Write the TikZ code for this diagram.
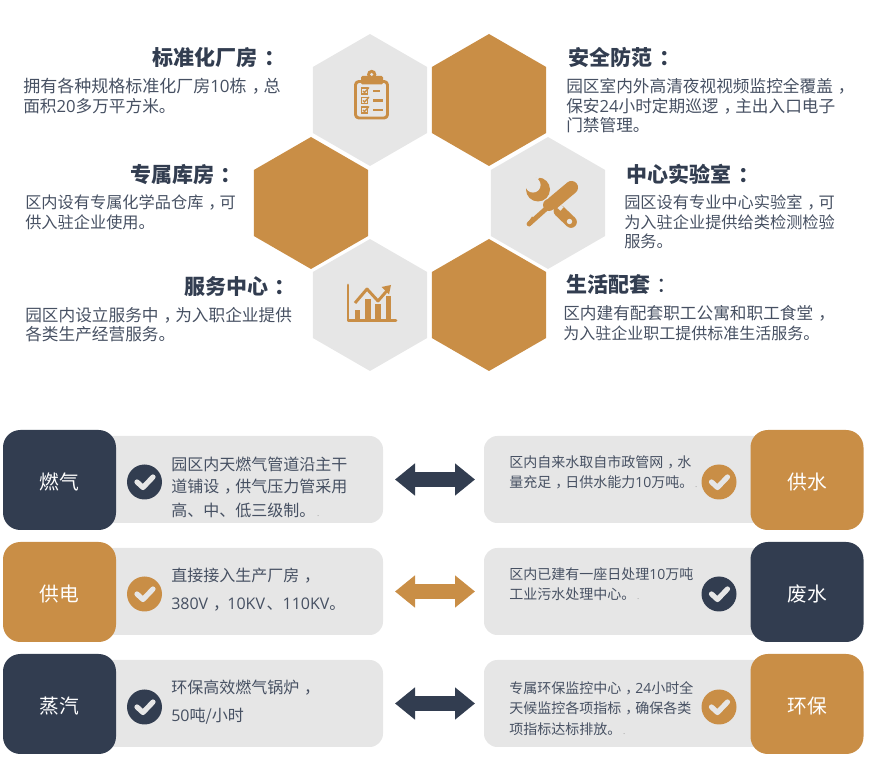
\documentclass[tikz,border=0pt]{standalone}
\usepackage{fontspec}
\usetikzlibrary{shapes.geometric,arrows.meta}
\setmainfont{Noto Sans CJK SC}
\newfontfamily\osf{Open Sans}
\definecolor{navy}{HTML}{323D50}
\definecolor{ochre}{HTML}{C98E46}
\definecolor{pale}{HTML}{E6E6E6}
\definecolor{ink}{HTML}{465062}
\newcommand{\nm}[1]{{\osf #1}}
\newcommand{\zc}{\makebox[1em][l]{\hspace{.3em}，}}
\newcommand{\zk}{\makebox[1em][l]{\hspace{.3em}：}}
\newcommand{\spk}{\textcolor{gray!70}{\fontsize{6}{6}\selectfont\ .}}
\newcommand{\lift}[1]{\raisebox{-7.1pt}[0pt][0pt]{#1}}
\tikzset{
  hexa/.style={regular polygon,regular polygon sides=6,regular polygon rotate=30,minimum size=99pt,inner sep=0pt,outer sep=0pt},
  hexpale/.style={hexa,fill=pale},
  hexochre/.style={hexa,fill=ochre},
  head/.style={anchor=west,inner sep=0pt,text=navy,font=\fontsize{15.75}{18}\selectfont\bfseries},
  body/.style={anchor=west,inner sep=0pt,text=ink,font=\fontsize{12.5}{15}\selectfont},
  bodywide/.style={body,font=\fontsize{12.75}{15}\selectfont},
  bodynarrow/.style={body,font=\fontsize{12.15}{15}\selectfont},
  bodyL/.style={anchor=west,inner sep=0pt,text=ink,font=\fontsize{12}{15}\selectfont},
  bodyR/.style={anchor=west,inner sep=0pt,text=ink,font=\fontsize{10.5}{13}\selectfont},
  panelL/.style={fill=pale,rounded corners=10pt,minimum width=212.25pt,minimum height=65.25pt,inner sep=0pt,outer sep=0pt},
  panelR/.style={fill=pale,rounded corners=10pt,minimum width=214.5pt,minimum height=65.25pt,inner sep=0pt,outer sep=0pt},
  tag/.style={rounded corners=13pt,minimum width=84.75pt,minimum height=75pt,inner sep=0pt,outer sep=0pt,text=white,font=\fontsize{14.8}{17}\selectfont},
  tick/.style={circle,minimum size=26.25pt,inner sep=0pt,outer sep=0pt},
  tickline/.style={draw=pale,line width=3.9pt,line cap=round,line join=round},
  link/.style={line width=11.25pt,shorten <=9pt,shorten >=6.75pt,{Triangle[length=15pt,width=23.25pt]}-{Triangle[length=15pt,width=23.25pt]}},
  iconline/.style={draw=ochre,line width=2.2pt,line join=round}
}
\newcommand{\tickmark}[1]{\draw[tickline] ([shift={(-7.5,0)}]#1.center) -- ([shift={(-1.5,5.5)}]#1.center) -- ([shift={(8.5,-5)}]#1.center);}
\begin{document}
\begin{tikzpicture}[x=0.75pt,y=-0.75pt]
\useasboundingbox (0,0) rectangle (869,777);
% hexagons
\node[hexpale] (h1) at (370,100) {};
\node[hexochre] (h2) at (489,100) {};
\node[hexochre] (h3) at (311,203) {};
\node[hexpale] (h4) at (548,203) {};
\node[hexpale] (h5) at (370,305) {};
\node[hexochre] (h6) at (489,305) {};
% clipboard icon
\draw[iconline,rounded corners=2.5pt] (361,81.5) -- (355.5,81.5) -- (355.5,118) -- (387.5,118) -- (387.5,81.5) -- (382,81.5);
\fill[ochre,rounded corners=1pt] (361,84.5) -- (361,76) -- (383,76) -- (383,84.5) -- cycle;
\fill[ochre] (371.7,74.5) circle (4.7);
\fill[pale] (371.7,74.5) circle (1.7);
\foreach \yy/\xe in {91/380,100.5/383,110/383}{
  \draw[ochre,line width=1pt] (361.5,\yy-3) rectangle (367.5,\yy+3);
  \draw[ochre,line width=1pt] (363,\yy) -- (364.5,\yy+1.5) -- (369,\yy-3.5);
  \draw[ochre,line width=1.9pt] (373,\yy) -- (\xe,\yy);
}
% tools icon
\fill[ochre] (538,189.5) circle (12);
\fill[pale] (533,185) circle (7.6);
\fill[pale] (527,178) -- (540,177) -- (533,185) -- cycle;
\draw[ochre,line width=8.8pt,line cap=round] (559.5,211) -- (571,222);
\fill[pale] (569.5,221.5) circle (2.7);
\draw[pale,line width=3.5pt] (551,199) -- (562,209);
\draw[ochre,line width=9.8pt,line cap=round] (571.5,187.5) -- (553,203);
\draw[ochre,line width=3.6pt,line cap=round] (548,207) -- (529,224);
\fill[ochre] (549,205) circle (6);
\fill[ochre] (527,224) -- (532,216.5) -- (536,220) -- (529.5,226.5) -- cycle;
% chart icon
\draw[iconline,line cap=round] (348,285) -- (348,320.5) -- (396,320.5);
\fill[ochre] (354.5,310) rectangle (360,320);
\fill[ochre] (365,299) rectangle (370.5,320);
\fill[ochre] (375,304) rectangle (380.5,320);
\fill[ochre] (385.5,296) rectangle (391,320);
\draw[iconline] (355,303) -- (367,289) -- (378,301) -- (388,289.5);
\fill[ochre] (391,285) -- (381.5,287) -- (389,294.5) -- cycle;
% hexagon captions
\node[head] (t1) at (152.5,57.5) {标准化厂房\zk};
\node[bodywide] (t1a) at (23,86) {拥有各种规格标准化厂房\nm{10}栋\zc 总};
\node[body] (t1b) at (23,106) {面积\nm{20}多万平方米。};
\node[head] (t2) at (130,174.5) {专属库房\zk};
\node[bodynarrow] (t2a) at (25,202) {区内设有专属化学品仓库\zc 可};
\node[bodynarrow] (t2b) at (25,222) {供入驻企业使用。};
\node[head] (t3) at (184,287) {服务中心\zk};
\node[body] (t3a) at (25,315) {园区内设立服务中\zc 为入职企业提供};
\node[body] (t3b) at (25,334) {各类生产经营服务。};
\node[head] (t4) at (568.5,57.5) {安全防范\zk};
\node[body] (t4a) at (566,86) {园区室内外高清夜视视频监控全覆盖\zc};
\node[body] (t4b) at (566,106) {保安\nm{24}小时定期巡逻\zc 主出入口电子};
\node[body] (t4c) at (566,125) {门禁管理。};
\node[head] (t5) at (626.5,174.5) {中心实验室\zk};
\node[bodynarrow] (t5a) at (624,202) {园区设有专业中心实验室\zc 可};
\node[bodynarrow] (t5b) at (624,222) {为入驻企业提供给类检测检验};
\node[bodynarrow] (t5c) at (624,241) {服务。};
\node[head] (t6) at (566,285) {生活配套\makebox[1em][l]{\hspace{.3em}\mdseries：}};
\node[body] (t6a) at (563,313) {区内建有配套职工公寓和职工食堂\zc};
\node[bodyL] (t6b) at (563,333) {为入驻企业职工提供标准生活服务。};
% panels
\node[panelL] (pl1) at (241.5,479.5) {};
\node[panelL] (pl2) at (241.5,591.5) {};
\node[panelL] (pl3) at (241.5,703.5) {};
\node[panelR] (pr1) at (627,479.5) {};
\node[panelR] (pr2) at (627,591.5) {};
\node[panelR] (pr3) at (627,703.5) {};
% tags
\node[tag,fill=navy] (g1) at (59.5,480) {\lift{燃气}};
\node[tag,fill=ochre] (g2) at (59.5,592) {\lift{供电}};
\node[tag,fill=navy] (g3) at (59.5,704) {\lift{蒸汽}};
\node[tag,fill=ochre] (w1) at (807,480) {\lift{供水}};
\node[tag,fill=navy] (w2) at (807,592) {\lift{废水}};
\node[tag,fill=ochre] (w3) at (807,704) {\lift{环保}};
% ticks
\node[tick,fill=navy] (cl1) at (144.5,482) {};
\node[tick,fill=ochre] (cl2) at (144.5,594) {};
\node[tick,fill=navy] (cl3) at (144.5,707) {};
\node[tick,fill=ochre] (cr1) at (719,482) {};
\node[tick,fill=navy] (cr2) at (719,594) {};
\node[tick,fill=ochre] (cr3) at (719,707) {};
\tickmark{cl1}\tickmark{cl2}\tickmark{cl3}\tickmark{cr1}\tickmark{cr2}\tickmark{cr3}
% panel texts
\node[bodyL] (a1) at (171,464) {园区内天燃气管道沿主干};
\node[bodyL] (a2) at (171,487) {道铺设\zc 供气压力管采用};
\node[bodyL] (a3) at (171,510) {高、中、低三级制。\spk};
\node[bodyL] (b1) at (171,576) {直接接入生产厂房\zc};
\node[bodyL] (b2) at (171,605) {\nm{380V}\zc\hspace{.2em}\nm{10KV}\hspace{.1em}、\nm{110KV}。};
\node[bodyL] (c1) at (171,688) {环保高效燃气锅炉\zc};
\node[bodyL] (c2) at (171,716) {\nm{50}吨/小时};
\node[bodyR] (d1) at (509,462) {区内自来水取自市政管网\zc 水};
\node[bodyR] (d2) at (509,482) {量充足\zc 日供水能力\nm{10}万吨。\spk};
\node[bodyR] (e1) at (509,574) {区内已建有一座日处理\nm{10}万吨};
\node[bodyR] (e2) at (509,594) {工业污水处理中心。\spk};
\node[bodyR] (f1) at (509,688) {专属环保监控中心\zc\nm{24}小时全};
\node[bodyR] (f2) at (509,708) {天候监控各项指标\zc 确保各类};
\node[bodyR] (f3) at (509,729) {项指标达标排放。\spk};
% connectors
\draw[link,navy] (pl1.east) -- (pr1.west);
\draw[link,ochre] (pl2.east) -- (pr2.west);
\draw[link,navy] (pl3.east) -- (pr3.west);
\end{tikzpicture}
\end{document}
